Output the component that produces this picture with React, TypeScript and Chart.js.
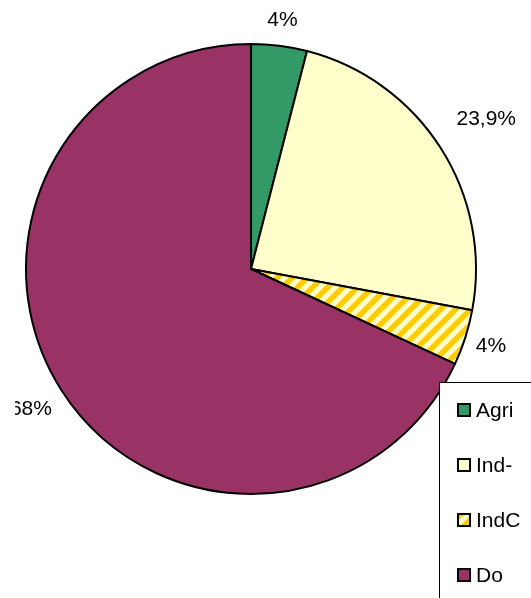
import React, { useEffect, useRef } from "react";
import { Chart, registerables } from "chart.js";

Chart.register(...registerables);

// ---- data ----
const categories = ["Agri", "Ind-", "IndC", "Do"];
const values = [4, 23.9, 4, 68];
const valueLabels = ["4%", "23,9%", "4%", "68%"];

// ---- styles / layout ----
const SOLID: (string | null)[] = ["#339966", "#FFFFCC", null, "#993366"];
const LABEL_GAP = [26, 54, 27, 36];
const FONT = "21px 'Liberation Sans', Arial, sans-serif";

function makeStripes(): CanvasPattern | string {
  const s = 15;
  const c = document.createElement("canvas");
  c.width = s;
  c.height = s;
  const g = c.getContext("2d");
  if (!g) return "#FFCC00";
  g.fillStyle = "#FFFFCC";
  g.fillRect(0, 0, s, s);
  g.strokeStyle = "#FFCC00";
  g.lineWidth = 5.5;
  g.beginPath();
  for (const o of [-s, 0, s]) {
    g.moveTo(o - 2, s + 2);
    g.lineTo(o + s + 2, -2);
  }
  g.stroke();
  const p = g.createPattern(c, "repeat");
  return p || "#FFCC00";
}

export default function App() {
  const ref = useRef<HTMLCanvasElement | null>(null);

  useEffect(() => {
    const canvas = ref.current;
    if (!canvas) return;
    const stripes = makeStripes();
    const fills = SOLID.map((c) => (c === null ? stripes : c));

    const overlay = {
      id: "overlay",
      afterDraw(chart: any) {
        const ctx: CanvasRenderingContext2D = chart.ctx;
        const meta = chart.getDatasetMeta(0);
        // value labels
        ctx.save();
        ctx.beginPath();
        ctx.rect(15, 0, chart.width, chart.height);
        ctx.clip();
        ctx.font = FONT;
        ctx.fillStyle = "#000";
        ctx.textAlign = "center";
        ctx.textBaseline = "middle";
        meta.data.forEach((el: any, i: number) => {
          const mid = (el.startAngle + el.endAngle) / 2;
          const d = el.outerRadius + LABEL_GAP[i];
          ctx.fillText(valueLabels[i], el.x + Math.cos(mid) * d, el.y + Math.sin(mid) * d);
        });
        ctx.restore();

        // legend box
        const lx = 439.5;
        const ly = 382.5;
        ctx.save();
        ctx.fillStyle = "#fff";
        ctx.fillRect(lx, ly, 200, 300);
        ctx.strokeStyle = "#000";
        ctx.lineWidth = 1;
        ctx.strokeRect(lx, ly, 200, 300);
        ctx.font = FONT;
        ctx.textAlign = "left";
        ctx.textBaseline = "middle";
        categories.forEach((name, i) => {
          const cy = 410 + i * 55;
          ctx.fillStyle = fills[i] as any;
          ctx.fillRect(458, cy - 6, 12, 12);
          ctx.strokeStyle = "#000";
          ctx.lineWidth = 2;
          ctx.strokeRect(458, cy - 6, 12, 12);
          ctx.fillStyle = "#000";
          ctx.fillText(name, 476, cy + 1);
        });
        ctx.restore();
      },
    };

    const chart = new Chart(canvas, {
      type: "pie",
      data: {
        labels: categories,
        datasets: [
          {
            data: values,
            backgroundColor: fills as any,
            borderColor: "#000",
            borderWidth: 2,
          },
        ],
      },
      options: {
        responsive: false,
        animation: false,
        layout: { padding: { left: 25, right: 54, top: 43, bottom: 103 } },
        plugins: {
          legend: { display: false },
          tooltip: { enabled: false },
        },
      },
      plugins: [overlay],
    });
    return () => chart.destroy();
  }, []);

  return (
    <div style={{ position: "absolute", left: 0, top: 0, width: 531, height: 598, background: "#fff" }}>
      <canvas ref={ref} width={531} height={598} style={{ display: "block" }} />
    </div>
  );
}
